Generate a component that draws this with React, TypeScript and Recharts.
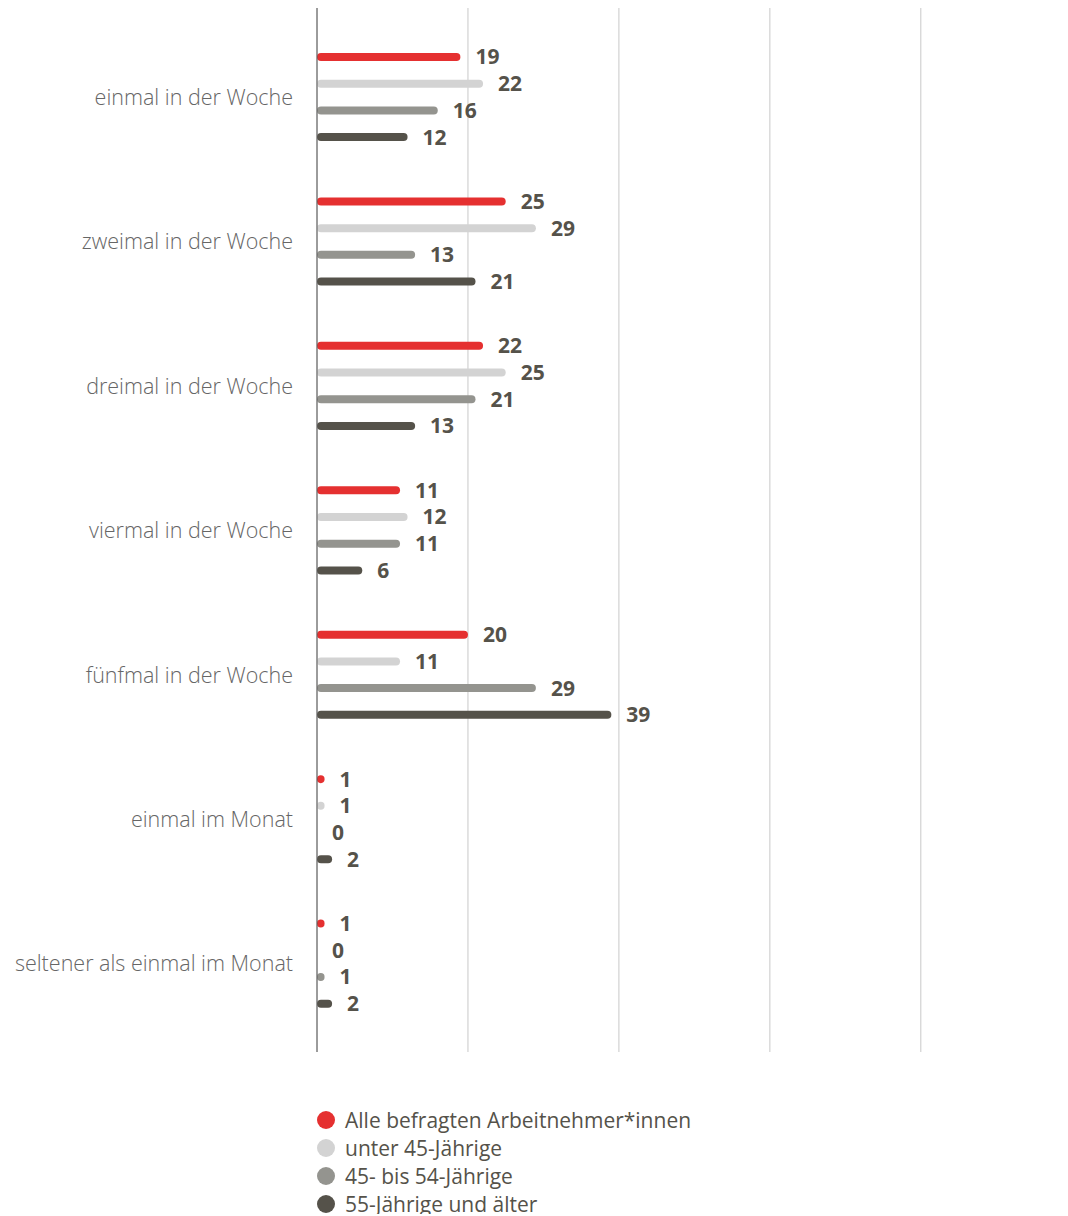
import React from 'react';
import { BarChart, Bar, XAxis, YAxis, CartesianGrid, LabelList } from 'recharts';

const categories = [
  'einmal in der Woche',
  'zweimal in der Woche',
  'dreimal in der Woche',
  'viermal in der Woche',
  'fünfmal in der Woche',
  'einmal im Monat',
  'seltener als einmal im Monat',
];

const alle = [19, 25, 22, 11, 20, 1, 1];
const unter45 = [22, 29, 25, 12, 11, 1, 0];
const mittel = [16, 13, 21, 11, 29, 0, 1];
const ab55 = [12, 21, 13, 6, 39, 2, 2];

const xTicks = [0, 20, 40, 60, 80];

const series = [
  { key: 'alle', name: 'Alle befragten Arbeitnehmer*innen', color: '#e53030' },
  { key: 'unter45', name: 'unter 45-Jährige', color: '#d3d3d3' },
  { key: 'mittel', name: '45- bis 54-Jährige', color: '#94948f' },
  { key: 'ab55', name: '55-Jährige und älter', color: '#55524a' },
];

const data = categories.map((name, i) => ({
  name,
  alle: alle[i],
  unter45: unter45[i],
  mittel: mittel[i],
  ab55: ab55[i],
}));

const font = '"Open Sans", sans-serif';
const textDark = '#55524a';

export default function App() {
  return (
    <div style={{ fontFamily: font }}>
      <BarChart
        width={1060}
        height={1044}
        data={data}
        layout="vertical"
        margin={{ top: 0, right: 0, bottom: 0, left: 0 }}
        barSize={8}
        barGap={18.7}
      >
        <CartesianGrid horizontal={false} stroke="#c8c8c8" />
        <XAxis type="number" domain={[0, 99.5]} ticks={xTicks} hide />
        <YAxis
          type="category"
          dataKey="name"
          width={309}
          axisLine={{ stroke: '#555', strokeWidth: 1 }}
          tickLine={false}
          tickMargin={18}
          padding={{ top: 17, bottom: 16 }}
          tick={{ fill: '#666', fontSize: 21.5, fontFamily: font, fontWeight: 300 }}
        />
        {series.map((s) => (
          <Bar
            key={s.key}
            dataKey={s.key}
            fill={s.color}
            radius={4}
            minPointSize={0.01}
            isAnimationActive={false}
          >
            <LabelList
              dataKey={s.key}
              position="right"
              offset={15}
              fill={textDark}
              fontSize={21}
              fontWeight={700}
              fontFamily={font}
            />
          </Bar>
        ))}
      </BarChart>
      <div style={{ marginTop: 54, paddingLeft: 309, height: 108 }}>
        {series.map((s) => (
          <div key={s.key} style={{ display: 'flex', alignItems: 'center', height: 28 }}>
            <span
              style={{
                width: 18,
                height: 18,
                borderRadius: 9,
                background: s.color,
                display: 'inline-block',
                marginRight: 10,
              }}
            />
            <span style={{ fontSize: 21, lineHeight: '20px', color: textDark }}>{s.name}</span>
          </div>
        ))}
      </div>
    </div>
  );
}
